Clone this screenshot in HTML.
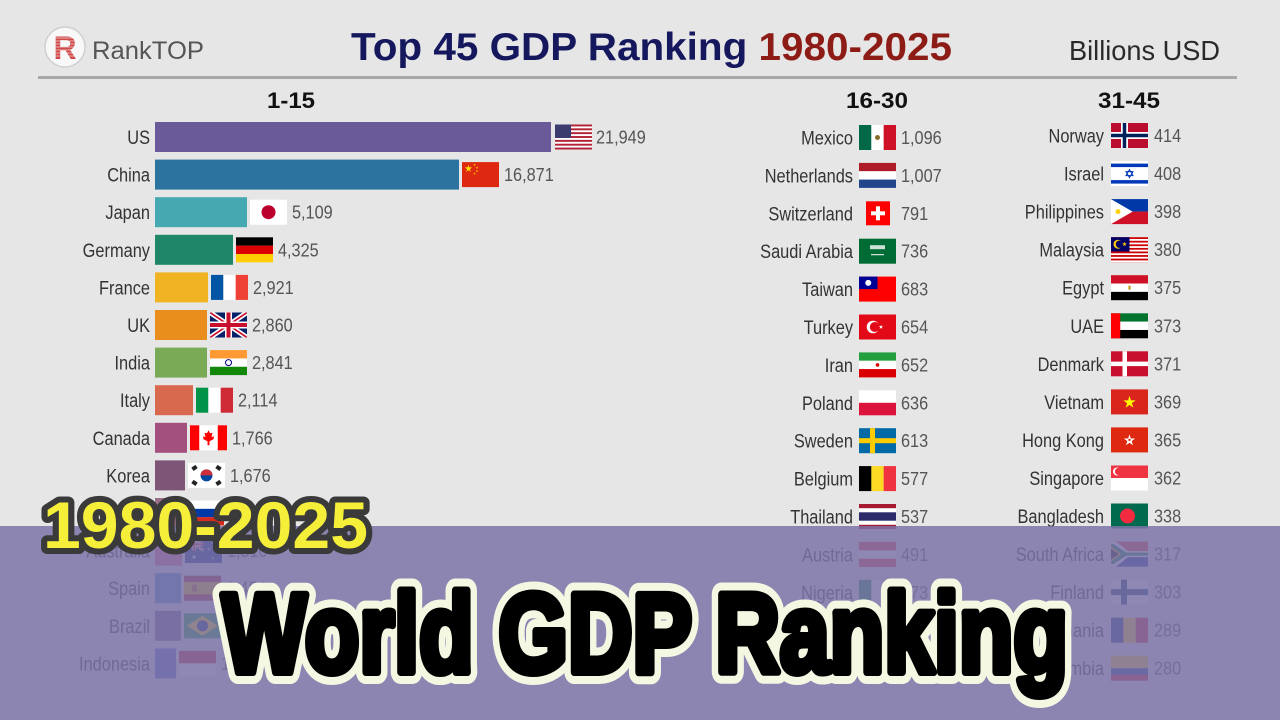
<!DOCTYPE html>
<html><head><meta charset="utf-8">
<style>
html,body{margin:0;padding:0;background:#e6e6e6;}
svg{display:block;}
.l{font-family:"Liberation Sans",sans-serif;font-size:19.5px;fill:#333;text-anchor:end;}
.n{font-family:"Liberation Sans",sans-serif;font-size:18.5px;fill:#555;}
.h{font-family:"Liberation Sans",sans-serif;font-size:22px;font-weight:bold;fill:#111;}
</style></head>
<body>
<svg width="1280" height="720" viewBox="0 0 1280 720" xmlns="http://www.w3.org/2000/svg">
<defs>
<clipPath id="fc"><rect width="37" height="25"/></clipPath>
<polygon id="st" points="0,-1 .224,-.309 .951,-.309 .363,.118 .588,.809 0,.382 -.588,.809 -.363,.118 -.951,-.309 -.224,-.309"/>
<g id="ukc">
<rect width="37" height="25" fill="#012169"/>
<path d="M0,0L37,25M37,0L0,25" stroke="#fff" stroke-width="5"/>
<path d="M0,0L37,25M37,0L0,25" stroke="#c8102e" stroke-width="1.7"/>
<rect x="15" width="7" height="25" fill="#fff"/><rect y="9" width="37" height="7" fill="#fff"/>
<rect x="16.5" width="4" height="25" fill="#c8102e"/><rect y="10.5" width="37" height="4" fill="#c8102e"/>
</g>
</defs>
<rect width="1280" height="720" fill="#e6e6e6"/>

<!-- header -->
<circle cx="65" cy="47" r="20" fill="#f8f8f8" stroke="#cfcfcf" stroke-width="1.5"/>
<text x="65" y="59" text-anchor="middle" font-family="Liberation Sans" font-weight="bold" font-size="32" fill="#d04848">R</text>
<g stroke="#f8f8f8" stroke-width="0.8" opacity="0.8"><path d="M52,38H78M52,41H78M52,44H78M52,47H78M52,50H78M52,53H78M52,56H78"/></g>
<text x="92" y="59" font-family="Liberation Sans" font-size="25" fill="#555" textLength="112" lengthAdjust="spacingAndGlyphs">RankTOP</text>
<text x="351" y="60" font-family="Liberation Sans" font-weight="bold" font-size="39" textLength="601" lengthAdjust="spacingAndGlyphs"><tspan fill="#16185e">Top 45 GDP Ranking </tspan><tspan fill="#8c1c15">1980-2025</tspan></text>
<text x="1069" y="60" font-family="Liberation Sans" font-size="28" fill="#2a2a2a" textLength="151" lengthAdjust="spacingAndGlyphs">Billions USD</text>
<rect x="38" y="76" width="1199" height="3" fill="#a9a9a9"/>

<text class="h" x="267" y="108" textLength="48" lengthAdjust="spacingAndGlyphs">1-15</text>
<text class="h" x="846" y="108" textLength="62" lengthAdjust="spacingAndGlyphs">16-30</text>
<text class="h" x="1098" y="108" textLength="62" lengthAdjust="spacingAndGlyphs">31-45</text>

<!-- LEFT bars -->
<rect x="155" y="122" width="396" height="30" fill="#6a5a9a"/>
<rect x="155" y="159.6" width="304" height="30" fill="#2c73a0"/>
<rect x="155" y="197.2" width="92" height="30" fill="#46a8b0"/>
<rect x="155" y="234.8" width="78" height="30" fill="#1f8768"/>
<rect x="155" y="272.4" width="53" height="30" fill="#f0b322"/>
<rect x="155" y="310" width="52" height="30" fill="#e98d1c"/>
<rect x="155" y="347.6" width="52" height="30" fill="#7aaa56"/>
<rect x="155" y="385.2" width="38" height="30" fill="#d9694e"/>
<rect x="155" y="422.8" width="32" height="30" fill="#a4507f"/>
<rect x="155" y="460.4" width="30" height="30" fill="#7c5577"/>
<rect x="155" y="498" width="29" height="30" fill="#9b6e8a"/>
<rect x="155" y="535.6" width="27" height="30" fill="#d95f8a"/>
<rect x="155" y="573.2" width="26" height="30" fill="#3f86c0"/>
<rect x="155" y="610.8" width="26" height="30" fill="#6b5b8f"/>
<rect x="155" y="648.4" width="21" height="30" fill="#4f63d0"/>

<!-- LEFT labels -->
<text class="l" transform="translate(150,144) scale(.84,1)">US</text>
<text class="l" transform="translate(150,181.6) scale(.84,1)">China</text>
<text class="l" transform="translate(150,219.2) scale(.84,1)">Japan</text>
<text class="l" transform="translate(150,256.8) scale(.84,1)">Germany</text>
<text class="l" transform="translate(150,294.4) scale(.84,1)">France</text>
<text class="l" transform="translate(150,332) scale(.84,1)">UK</text>
<text class="l" transform="translate(150,369.6) scale(.84,1)">India</text>
<text class="l" transform="translate(150,407.2) scale(.84,1)">Italy</text>
<text class="l" transform="translate(150,444.8) scale(.84,1)">Canada</text>
<text class="l" transform="translate(150,482.4) scale(.84,1)">Korea</text>
<text class="l" transform="translate(150,520) scale(.84,1)">Russia</text>
<text class="l" transform="translate(150,557.6) scale(.84,1)">Australia</text>
<text class="l" transform="translate(150,595.2) scale(.84,1)">Spain</text>
<text class="l" transform="translate(150,632.8) scale(.84,1)">Brazil</text>
<text class="l" transform="translate(150,670.4) scale(.84,1)">Indonesia</text>

<!-- LEFT numbers -->
<text class="n" transform="translate(596,143.5) scale(.88,1)">21,949</text>
<text class="n" transform="translate(504,181.1) scale(.88,1)">16,871</text>
<text class="n" transform="translate(292,218.7) scale(.88,1)">5,109</text>
<text class="n" transform="translate(278,256.3) scale(.88,1)">4,325</text>
<text class="n" transform="translate(253,293.9) scale(.88,1)">2,921</text>
<text class="n" transform="translate(252,331.5) scale(.88,1)">2,860</text>
<text class="n" transform="translate(252,369.1) scale(.88,1)">2,841</text>
<text class="n" transform="translate(238,406.7) scale(.88,1)">2,114</text>
<text class="n" transform="translate(232,444.3) scale(.88,1)">1,766</text>
<text class="n" transform="translate(230,481.9) scale(.88,1)">1,676</text>
<text class="n" transform="translate(229,519.5) scale(.88,1)">1,586</text>
<text class="n" transform="translate(227,557.1) scale(.88,1)">1,510</text>
<text class="n" transform="translate(226,594.7) scale(.88,1)">1,454</text>
<text class="n" transform="translate(226,632.3) scale(.88,1)">1,444</text>
<text class="n" transform="translate(221,669.9) scale(.88,1)">1,186</text>

<!-- LEFT flags -->
<g transform="translate(555,124.5)" clip-path="url(#fc)"><rect width="37" height="25" fill="#b22234"/><g fill="#fff"><rect y="1.92" width="37" height="1.92"/><rect y="5.77" width="37" height="1.92"/><rect y="9.62" width="37" height="1.92"/><rect y="13.46" width="37" height="1.92"/><rect y="17.31" width="37" height="1.92"/><rect y="21.15" width="37" height="1.92"/></g><rect width="16" height="13.5" fill="#3c3b6e"/></g>
<g transform="translate(462,162.1)"><rect width="37" height="25" fill="#de2910"/><use href="#st" transform="translate(6.5,6.5) scale(4)" fill="#ffde00"/><use href="#st" transform="translate(12.5,2.8) scale(1.3)" fill="#ffde00"/><use href="#st" transform="translate(15,5.5) scale(1.3)" fill="#ffde00"/><use href="#st" transform="translate(15,9) scale(1.3)" fill="#ffde00"/><use href="#st" transform="translate(12.5,11.5) scale(1.3)" fill="#ffde00"/></g>
<g transform="translate(250,199.7)"><rect width="37" height="25" fill="#fff"/><circle cx="18.5" cy="12.5" r="7" fill="#bc002d"/></g>
<g transform="translate(236,237.3)"><rect width="37" height="8.4" fill="#000"/><rect y="8.33" width="37" height="8.4" fill="#dd0000"/><rect y="16.67" width="37" height="8.33" fill="#ffce00"/></g>
<g transform="translate(211,274.9)"><rect width="12.4" height="25" fill="#0055a4"/><rect x="12.33" width="12.4" height="25" fill="#fff"/><rect x="24.67" width="12.33" height="25" fill="#ef4135"/></g>
<g transform="translate(210,312.5)" clip-path="url(#fc)"><use href="#ukc"/></g>
<g transform="translate(210,350.1)"><rect width="37" height="8.4" fill="#ff9933"/><rect y="8.33" width="37" height="8.4" fill="#fff"/><rect y="16.67" width="37" height="8.33" fill="#138808"/><circle cx="18.5" cy="12.5" r="3" fill="none" stroke="#000080" stroke-width="1"/></g>
<g transform="translate(196,387.7)"><rect width="12.4" height="25" fill="#009246"/><rect x="12.33" width="12.4" height="25" fill="#fff"/><rect x="24.67" width="12.33" height="25" fill="#ce2b37"/></g>
<g transform="translate(190,425.3)"><rect width="37" height="25" fill="#fff"/><rect width="9.25" height="25" fill="#ff0000"/><rect x="27.75" width="9.25" height="25" fill="#ff0000"/><polygon points="18.5,5 20,8 22.5,7.5 21.5,12 24,11 23.5,14 19.5,16 19.5,20 17.5,20 17.5,16 13.5,14 13,11 15.5,12 14.5,7.5 17,8" fill="#ff0000"/></g>
<g transform="translate(188,462.9)"><rect width="37" height="25" fill="#fff"/><circle cx="18.5" cy="12.5" r="6" fill="#0047a0"/><path d="M12.5,12.5 a6,6 0 0 1 12,0z" fill="#cd2e3a"/><g fill="#222"><rect x="4" y="3" width="5" height="4" transform="rotate(-34 6.5 5)"/><rect x="28" y="18" width="5" height="4" transform="rotate(-34 30.5 20)"/><rect x="28" y="3" width="5" height="4" transform="rotate(34 30.5 5)"/><rect x="4" y="18" width="5" height="4" transform="rotate(34 6.5 20)"/></g></g>
<g transform="translate(187,500.5)"><rect width="37" height="8.4" fill="#fff"/><rect y="8.33" width="37" height="8.4" fill="#0039a6"/><rect y="16.67" width="37" height="8.33" fill="#d52b1e"/></g>
<g transform="translate(185,538.1)" clip-path="url(#fc)"><rect width="37" height="25" fill="#00247d"/><g transform="scale(.5)"><use href="#ukc"/></g><g fill="#fff"><use href="#st" transform="translate(9,19) scale(2.6)"/><use href="#st" transform="translate(28,5) scale(1.5)"/><use href="#st" transform="translate(23.5,11) scale(1.5)"/><use href="#st" transform="translate(31.5,10) scale(1.5)"/><use href="#st" transform="translate(28,20) scale(1.5)"/></g></g>
<g transform="translate(184,575.7)"><rect width="37" height="25" fill="#aa151b"/><rect y="6.25" width="37" height="12.5" fill="#f1bf00"/><rect x="8" y="9" width="5" height="7" fill="#aa151b" opacity=".6"/></g>
<g transform="translate(184,613.3)"><rect width="37" height="25" fill="#009c3b"/><polygon points="18.5,2.5 34,12.5 18.5,22.5 3,12.5" fill="#ffdf00"/><circle cx="18.5" cy="12.5" r="5.5" fill="#002776"/></g>
<g transform="translate(179,650.9)"><rect width="37" height="12.5" fill="#ce1126"/><rect y="12.5" width="37" height="12.5" fill="#fff"/></g>

<!-- MIDDLE labels -->
<text class="l" transform="translate(853,144.5) scale(.84,1)">Mexico</text>
<text class="l" transform="translate(853,182.4) scale(.84,1)">Netherlands</text>
<text class="l" transform="translate(853,220.3) scale(.84,1)">Switzerland</text>
<text class="l" transform="translate(853,258.2) scale(.84,1)">Saudi Arabia</text>
<text class="l" transform="translate(853,296.1) scale(.84,1)">Taiwan</text>
<text class="l" transform="translate(853,334) scale(.84,1)">Turkey</text>
<text class="l" transform="translate(853,371.9) scale(.84,1)">Iran</text>
<text class="l" transform="translate(853,409.8) scale(.84,1)">Poland</text>
<text class="l" transform="translate(853,447.7) scale(.84,1)">Sweden</text>
<text class="l" transform="translate(853,485.6) scale(.84,1)">Belgium</text>
<text class="l" transform="translate(853,523.5) scale(.84,1)">Thailand</text>
<text class="l" transform="translate(853,561.4) scale(.84,1)">Austria</text>
<text class="l" transform="translate(853,599.3) scale(.84,1)">Nigeria</text>
<text class="l" transform="translate(853,637.2) scale(.84,1)">Argentina</text>
<text class="l" transform="translate(853,675.1) scale(.84,1)">Ireland</text>

<!-- MIDDLE numbers -->
<text class="n" transform="translate(901,144) scale(.88,1)">1,096</text>
<text class="n" transform="translate(901,181.9) scale(.88,1)">1,007</text>
<text class="n" transform="translate(901,219.8) scale(.88,1)">791</text>
<text class="n" transform="translate(901,257.7) scale(.88,1)">736</text>
<text class="n" transform="translate(901,295.6) scale(.88,1)">683</text>
<text class="n" transform="translate(901,333.5) scale(.88,1)">654</text>
<text class="n" transform="translate(901,371.4) scale(.88,1)">652</text>
<text class="n" transform="translate(901,409.3) scale(.88,1)">636</text>
<text class="n" transform="translate(901,447.2) scale(.88,1)">613</text>
<text class="n" transform="translate(901,485.1) scale(.88,1)">577</text>
<text class="n" transform="translate(901,523) scale(.88,1)">537</text>
<text class="n" transform="translate(901,560.9) scale(.88,1)">491</text>
<text class="n" transform="translate(901,598.8) scale(.88,1)">473</text>
<text class="n" transform="translate(901,636.7) scale(.88,1)">449</text>
<text class="n" transform="translate(901,674.6) scale(.88,1)">426</text>

<!-- MIDDLE flags -->
<g transform="translate(859,125)"><rect width="12.4" height="25" fill="#006847"/><rect x="12.33" width="12.4" height="25" fill="#fff"/><rect x="24.67" width="12.33" height="25" fill="#ce1126"/><circle cx="18.5" cy="12.5" r="2.5" fill="#8b6b2b"/></g>
<g transform="translate(859,162.9)"><rect width="37" height="8.4" fill="#ae1c28"/><rect y="8.33" width="37" height="8.4" fill="#fff"/><rect y="16.67" width="37" height="8.33" fill="#21468b"/></g>
<g transform="translate(866,201.3)"><rect width="24" height="24" fill="#ff0000"/><rect x="10" y="5" width="4" height="14" fill="#fff"/><rect x="5" y="10" width="14" height="4" fill="#fff"/></g>
<g transform="translate(859,238.7)"><rect width="37" height="25" fill="#006c35"/><rect x="11" y="6.5" width="15" height="4" fill="#fff" opacity=".8"/><rect x="12" y="15.5" width="13" height="1" fill="#fff"/></g>
<g transform="translate(859,276.6)"><rect width="37" height="25" fill="#fe0000"/><rect width="18.5" height="12.5" fill="#000095"/><circle cx="9.25" cy="6.25" r="3" fill="#fff"/></g>
<g transform="translate(859,314.5)"><rect width="37" height="25" fill="#e30a17"/><circle cx="14" cy="12.5" r="6.3" fill="#fff"/><circle cx="15.8" cy="12.5" r="5" fill="#e30a17"/><use href="#st" transform="translate(22,12.5) scale(2.3)" fill="#fff"/></g>
<g transform="translate(859,352.4)"><rect width="37" height="8.4" fill="#239f40"/><rect y="8.33" width="37" height="8.4" fill="#fff"/><rect y="16.67" width="37" height="8.33" fill="#da0000"/><circle cx="18.5" cy="12.5" r="1.8" fill="#da0000"/></g>
<g transform="translate(859,390.3)"><rect width="37" height="12.5" fill="#fff"/><rect y="12.5" width="37" height="12.5" fill="#dc143c"/></g>
<g transform="translate(859,428.2)"><rect width="37" height="25" fill="#006aa7"/><rect x="11" width="5" height="25" fill="#fecc00"/><rect y="10" width="37" height="5" fill="#fecc00"/></g>
<g transform="translate(859,466.1)"><rect width="12.4" height="25" fill="#000"/><rect x="12.33" width="12.4" height="25" fill="#fdda24"/><rect x="24.67" width="12.33" height="25" fill="#ef3340"/></g>
<g transform="translate(859,504)"><rect width="37" height="25" fill="#a51931"/><rect y="4.2" width="37" height="16.6" fill="#fff"/><rect y="8.3" width="37" height="8.4" fill="#2d2a6a"/></g>
<g transform="translate(859,541.9)"><rect width="37" height="25" fill="#ed2939"/><rect y="8.33" width="37" height="8.4" fill="#fff"/></g>
<g transform="translate(859,579.8)"><rect width="37" height="25" fill="#008751"/><rect x="12.33" width="12.4" height="25" fill="#fff"/></g>
<g transform="translate(859,617.7)"><rect width="37" height="25" fill="#74acdf"/><rect y="8.33" width="37" height="8.4" fill="#fff"/><circle cx="18.5" cy="12.5" r="2.5" fill="#f6b40e"/></g>
<g transform="translate(859,655.6)"><rect width="12.4" height="25" fill="#169b62"/><rect x="12.33" width="12.4" height="25" fill="#fff"/><rect x="24.67" width="12.33" height="25" fill="#ff883e"/></g>

<!-- RIGHT labels -->
<text class="l" transform="translate(1104,142.5) scale(.84,1)">Norway</text>
<text class="l" transform="translate(1104,180.6) scale(.84,1)">Israel</text>
<text class="l" transform="translate(1104,218.6) scale(.84,1)">Philippines</text>
<text class="l" transform="translate(1104,256.7) scale(.84,1)">Malaysia</text>
<text class="l" transform="translate(1104,294.7) scale(.84,1)">Egypt</text>
<text class="l" transform="translate(1104,332.8) scale(.84,1)">UAE</text>
<text class="l" transform="translate(1104,370.8) scale(.84,1)">Denmark</text>
<text class="l" transform="translate(1104,408.9) scale(.84,1)">Vietnam</text>
<text class="l" transform="translate(1104,446.9) scale(.84,1)">Hong Kong</text>
<text class="l" transform="translate(1104,485) scale(.84,1)">Singapore</text>
<text class="l" transform="translate(1104,523) scale(.84,1)">Bangladesh</text>
<text class="l" transform="translate(1104,561.1) scale(.84,1)">South Africa</text>
<text class="l" transform="translate(1104,599.1) scale(.84,1)">Finland</text>
<text class="l" transform="translate(1104,637.2) scale(.84,1)">Romania</text>
<text class="l" transform="translate(1104,675.2) scale(.84,1)">Colombia</text>

<!-- RIGHT numbers -->
<text class="n" transform="translate(1154,142) scale(.88,1)">414</text>
<text class="n" transform="translate(1154,180.1) scale(.88,1)">408</text>
<text class="n" transform="translate(1154,218.1) scale(.88,1)">398</text>
<text class="n" transform="translate(1154,256.2) scale(.88,1)">380</text>
<text class="n" transform="translate(1154,294.2) scale(.88,1)">375</text>
<text class="n" transform="translate(1154,332.3) scale(.88,1)">373</text>
<text class="n" transform="translate(1154,370.3) scale(.88,1)">371</text>
<text class="n" transform="translate(1154,408.4) scale(.88,1)">369</text>
<text class="n" transform="translate(1154,446.4) scale(.88,1)">365</text>
<text class="n" transform="translate(1154,484.5) scale(.88,1)">362</text>
<text class="n" transform="translate(1154,522.5) scale(.88,1)">338</text>
<text class="n" transform="translate(1154,560.6) scale(.88,1)">317</text>
<text class="n" transform="translate(1154,598.6) scale(.88,1)">303</text>
<text class="n" transform="translate(1154,636.7) scale(.88,1)">289</text>
<text class="n" transform="translate(1154,674.7) scale(.88,1)">280</text>

<!-- RIGHT flags -->
<g transform="translate(1111,123)"><rect width="37" height="25" fill="#ba0c2f"/><rect x="10" width="7" height="25" fill="#fff"/><rect y="9" width="37" height="7" fill="#fff"/><rect x="11.75" width="3.5" height="25" fill="#00205b"/><rect y="10.75" width="37" height="3.5" fill="#00205b"/></g>
<g transform="translate(1111,161.1)"><rect width="37" height="25" fill="#fff"/><rect y="2.5" width="37" height="3.5" fill="#0038b8"/><rect y="19" width="37" height="3.5" fill="#0038b8"/><g fill="none" stroke="#0038b8" stroke-width="1"><polygon points="18.5,8.5 22,14.5 15,14.5"/><polygon points="18.5,16.5 22,10.5 15,10.5"/></g></g>
<g transform="translate(1111,199.1)"><rect width="37" height="12.5" fill="#0038a8"/><rect y="12.5" width="37" height="12.5" fill="#ce1126"/><polygon points="0,0 21.6,12.5 0,25" fill="#fff"/><circle cx="7" cy="12.5" r="2.5" fill="#fcd116"/></g>
<g transform="translate(1111,237.2)"><rect width="37" height="25" fill="#cc0001"/><g fill="#fff"><rect y="1.79" width="37" height="1.79"/><rect y="5.36" width="37" height="1.79"/><rect y="8.93" width="37" height="1.79"/><rect y="12.5" width="37" height="1.79"/><rect y="16.07" width="37" height="1.79"/><rect y="19.64" width="37" height="1.79"/><rect y="23.21" width="37" height="1.79"/></g><rect width="18.5" height="14.3" fill="#010066"/><circle cx="7" cy="7" r="4.5" fill="#ffcc00"/><circle cx="8.5" cy="7" r="3.7" fill="#010066"/><use href="#st" transform="translate(13.5,7) scale(2.5)" fill="#ffcc00"/></g>
<g transform="translate(1111,275.2)"><rect width="37" height="8.4" fill="#ce1126"/><rect y="8.33" width="37" height="8.4" fill="#fff"/><rect y="16.67" width="37" height="8.33" fill="#000"/><rect x="17.5" y="10.5" width="2" height="4" fill="#c09300"/></g>
<g transform="translate(1111,313.3)"><rect width="37" height="8.4" fill="#00732f"/><rect y="8.33" width="37" height="8.4" fill="#fff"/><rect y="16.67" width="37" height="8.33" fill="#000"/><rect width="9.25" height="25" fill="#ff0000"/></g>
<g transform="translate(1111,351.3)"><rect width="37" height="25" fill="#c8102e"/><rect x="11.5" width="4.5" height="25" fill="#fff"/><rect y="10.3" width="37" height="4.5" fill="#fff"/></g>
<g transform="translate(1111,389.4)"><rect width="37" height="25" fill="#da251d"/><use href="#st" transform="translate(18.5,13) scale(6.5)" fill="#ffff00"/></g>
<g transform="translate(1111,427.4)"><rect width="37" height="25" fill="#de2910"/><use href="#st" transform="translate(18.5,13) scale(6)" fill="#fff"/><circle cx="18.5" cy="12.5" r="1.2" fill="#de2910"/></g>
<g transform="translate(1111,465.5)"><rect width="37" height="12.5" fill="#ef3340"/><rect y="12.5" width="37" height="12.5" fill="#fff"/><circle cx="6" cy="6" r="4" fill="#fff"/><circle cx="7.5" cy="6" r="3.6" fill="#ef3340"/></g>
<g transform="translate(1111,503.5)"><rect width="37" height="25" fill="#006a4e"/><circle cx="16.5" cy="12.5" r="7.5" fill="#f42a41"/></g>
<g transform="translate(1111,541.6)"><rect width="37" height="12.5" fill="#de3831"/><rect y="12.5" width="37" height="12.5" fill="#002395"/><polygon points="0,0 5,0 17,9.5 37,9.5 37,15.5 17,15.5 5,25 0,25" fill="#fff"/><polygon points="0,2.5 2.5,2.5 15.5,11 37,11 37,14 15.5,14 2.5,22.5 0,22.5" fill="#007a4d"/><polygon points="0,5 10,12.5 0,20" fill="#ffb612"/><polygon points="0,7 8,12.5 0,18" fill="#000"/></g>
<g transform="translate(1111,579.6)"><rect width="37" height="25" fill="#fff"/><rect x="10" width="6" height="25" fill="#002f6c"/><rect y="9.5" width="37" height="6" fill="#002f6c"/></g>
<g transform="translate(1111,617.7)"><rect width="12.4" height="25" fill="#002b7f"/><rect x="12.33" width="12.4" height="25" fill="#fcd116"/><rect x="24.67" width="12.33" height="25" fill="#ce1126"/></g>
<g transform="translate(1111,655.7)"><rect width="37" height="12.5" fill="#fcd116"/><rect y="12.5" width="37" height="6.3" fill="#003893"/><rect y="18.75" width="37" height="6.25" fill="#ce1126"/></g>

<!-- purple overlay -->
<rect x="0" y="526" width="1280" height="194" fill="rgb(123,115,167)" opacity="0.85"/>

<!-- big titles -->
<text x="43" y="548" font-family="Liberation Sans" font-weight="bold" font-size="66" textLength="325" lengthAdjust="spacingAndGlyphs" fill="#f6ef3a" stroke="#3a3a3a" stroke-width="12" stroke-linejoin="round" paint-order="stroke">1980-2025</text>

<text x="222" y="672" font-family="Liberation Sans" font-weight="bold" font-size="112" textLength="846" lengthAdjust="spacingAndGlyphs" fill="#f4f8e2" stroke="#f4f8e2" stroke-width="24" stroke-linejoin="round">World GDP Ranking</text>
<text x="222" y="672" font-family="Liberation Sans" font-weight="bold" font-size="112" textLength="846" lengthAdjust="spacingAndGlyphs" fill="#000" stroke="#000" stroke-width="8" stroke-linejoin="round">World GDP Ranking</text>
</svg>
</body></html>
